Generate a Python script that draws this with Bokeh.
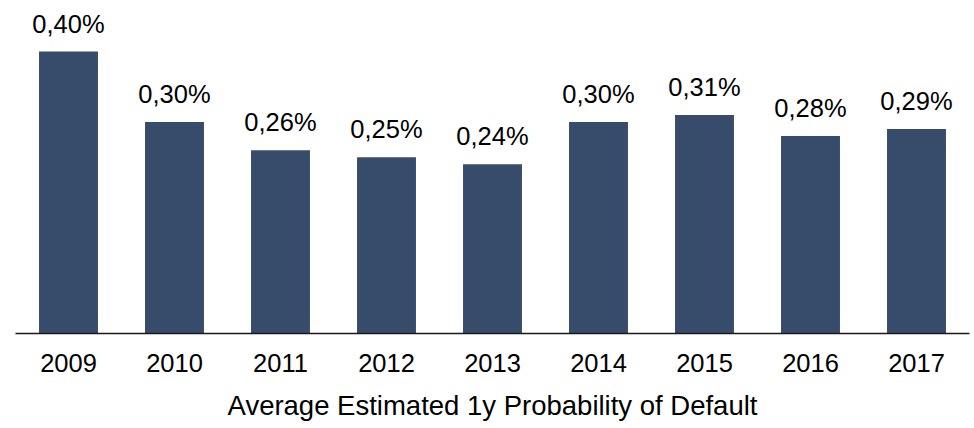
from bokeh.plotting import figure
from bokeh.models import ColumnDataSource, Range1d, LabelSet
from bokeh.core.properties import value
from bokeh.embed import file_html
from bokeh.resources import INLINE

years = ["2009", "2010", "2011", "2012", "2013", "2014", "2015", "2016", "2017"]
pd_values = [0.40, 0.30, 0.26, 0.25, 0.24, 0.30, 0.31, 0.28, 0.29]
pd_labels = ["0,40%", "0,30%", "0,26%", "0,25%", "0,24%", "0,30%", "0,31%", "0,28%", "0,29%"]
x_title = "Average Estimated 1y Probability of Default"

src = ColumnDataSource(dict(year=years, val=pd_values, lab=pd_labels))

p = figure(x_range=years, y_range=Range1d(0, 325 / 705),
           width=974, height=428, output_backend="svg", toolbar_location=None,
           min_border_left=15, min_border_right=5, min_border_top=8, min_border_bottom=95)
p.outline_line_color = None
p.background_fill_color = "white"
p.border_fill_color = "white"

p.vbar(x="year", top="val", width=0.556, source=src, color="#374C6B", line_color=None)

labels = LabelSet(x="year", y="val", text="lab", source=src, text_align="center",
                  text_baseline="alphabetic", y_offset=19,
                  text_font=value("Liberation Sans"), text_font_size="25.5px",
                  text_color="#000000")
p.add_layout(labels)

p.yaxis.visible = False
p.xgrid.grid_line_color = None
p.ygrid.grid_line_color = None

ax = p.xaxis[0]
ax.axis_line_color = "#1a1a1a"
ax.axis_line_width = 1.6
ax.major_tick_line_color = None
ax.minor_tick_line_color = None
ax.major_tick_out = 0
ax.major_tick_in = 0
ax.major_label_standoff = 20
ax.major_label_text_font = "Liberation Sans"
ax.major_label_text_font_size = "25.5px"
ax.major_label_text_color = "#000000"
ax.axis_label = x_title
ax.axis_label_standoff = 15
ax.axis_label_text_font = "Liberation Sans"
ax.axis_label_text_font_size = "27.5px"
ax.axis_label_text_font_style = "normal"
ax.axis_label_text_color = "#000000"

open("out.html", "w").write(file_html(p, INLINE))
